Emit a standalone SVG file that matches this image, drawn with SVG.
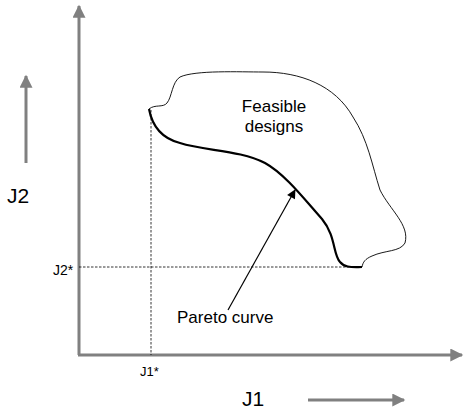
<svg xmlns="http://www.w3.org/2000/svg" width="464" height="412" viewBox="0 0 464 412">
<style>
.ax{stroke:#808080;stroke-width:3;fill:none}
.dash{stroke:#000;stroke-width:0.8;stroke-dasharray:2.5,1.5;fill:none}
text{font-family:"Liberation Sans",Arial,sans-serif;fill:#000}
</style>
<defs>
<marker id="ga" viewBox="0 0 10 10" refX="9" refY="5" markerUnits="userSpaceOnUse" markerWidth="16" markerHeight="13" orient="auto"><path d="M0,0 L10,5 L0,10 Z" fill="#808080"/></marker>
<marker id="ba" viewBox="0 0 10 10" refX="9" refY="5" markerUnits="userSpaceOnUse" markerWidth="13" markerHeight="9" orient="auto"><path d="M0,0 L10,5 L0,10 Z" fill="#000"/></marker>
</defs>
<g id="connectors">
<path class="ax" d="M79,355 V6" marker-end="url(#ga)"/>
<path class="ax" d="M78,355 H462" marker-end="url(#ga)"/>
<path class="ax" d="M26,163 V76" marker-end="url(#ga)"/>
<path class="ax" d="M308,400 H404" marker-end="url(#ga)"/>
<path class="dash" d="M151,110 V355"/>
<path class="dash" d="M79,267 H355"/>
<path d="M228,310 L295,190" stroke="#000" stroke-width="1.2" fill="none" marker-end="url(#ba)"/>
</g>
<g id="feasible">
<path d="M149,109 C155,104 163,108 167,103 C172,97 172,82 180,77 C195,70 240,72 263,72 C300,72 335,85 353,117 C368,140 372,165 380,190 C390,210 410,225 405,243 C400,252 385,250 372,256 C365,259 363,262 362,267" stroke="#000" stroke-width="0.9" fill="none"/>
<text x="274" y="112" font-size="17" text-anchor="middle">Feasible</text>
<text x="274" y="132" font-size="17" text-anchor="middle">designs</text>
</g>
<g id="pareto">
<path d="M149,109 C152,125 160,138 180,143 C205,151 240,150 265,163 C285,174 305,200 322,219 C336,236 333,255 340,262 C345,268 352,267 362,267" stroke="#000" stroke-width="2.2" fill="none"/>
<text x="177" y="323" font-size="17">Pareto curve</text>
</g>
<g id="labels">
<text x="7" y="203" font-size="21">J2</text>
<text x="242" y="406" font-size="21">J1</text>
<text x="53" y="275" font-size="14">J2*</text>
<text x="140" y="376" font-size="13">J1*</text>
</g>
</svg>
